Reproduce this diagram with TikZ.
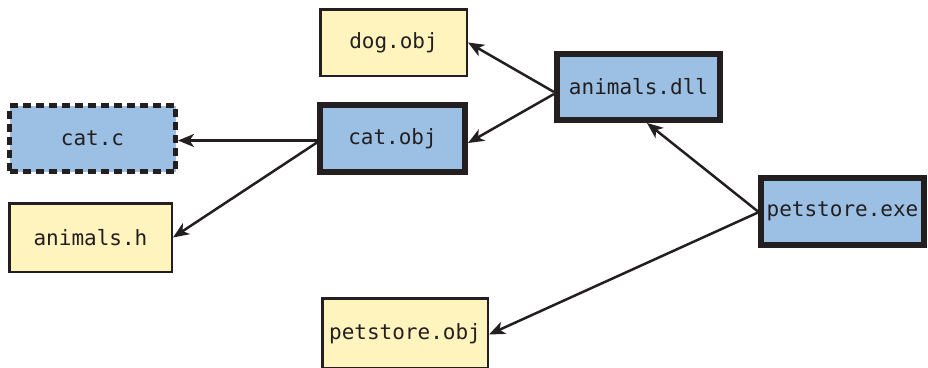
\documentclass[tikz,border=0pt]{standalone}
\usepackage{fontspec}
\setmonofont{DejaVu Sans Mono}
\usetikzlibrary{arrows.meta}
\definecolor{ink}{HTML}{231F20}
\definecolor{boxblue}{HTML}{9BC0E4}
\definecolor{boxyellow}{HTML}{FFF4BE}
\tikzset{
  filebox/.style={draw=ink, text=ink, rectangle, inner sep=0pt, font=\ttfamily\fontsize{21}{25}\selectfont},
  srcbox/.style={filebox, fill=boxyellow, line width=2.5pt},
  binbox/.style={filebox, fill=boxblue, line width=6pt},
  dashbox/.style={filebox, fill=boxblue, line width=5pt, dash pattern=on 8pt off 5pt},
  dep/.style={draw=ink, line width=2.5pt, -{Stealth[length=16pt,width=13pt,inset=4.5pt]}}
}
\begin{document}
\begin{tikzpicture}[x=1pt,y=-1pt]
\useasboundingbox (0,0) rectangle (928,367);
\node[srcbox, minimum width=146.5pt, minimum height=66.5pt] (dog) at (393.5,42.5) {dog.obj};
\node[binbox, minimum width=163pt, minimum height=66pt] (dll) at (638.5,87) {animals.dll};
\node[binbox, minimum width=145pt, minimum height=67pt] (catobj) at (392.5,138.5) {cat.obj};
\node[dashbox, minimum width=166pt, minimum height=66pt] (catc) at (92.5,138.5) {cat.c};
\node[srcbox, minimum width=162.5pt, minimum height=68.5pt] (animh) at (90.5,237.5) {animals.h};
\node[binbox, minimum width=163pt, minimum height=67pt] (exe) at (842.5,211.5) {petstore.exe};
\node[srcbox, minimum width=165.5pt, minimum height=70pt] (petobj) at (405,333.5) {petstore.obj};
\draw[dep] ([yshift=-5pt]dll.west) -- (dog.east);
\draw[dep] ([yshift=-7pt]dll.west) -- ([yshift=-4.5pt]catobj.east);
\draw[dep] ([yshift=-2pt]catobj.west) -- ([yshift=-2pt]catc.east);
\draw[dep] ([yshift=-4pt]catobj.west) -- (animh.east);
\draw[dep] (exe.west) -- ([xshift=8.5pt]dll.south);
\draw[dep] ([yshift=-1pt]exe.west) -- ([yshift=-1pt]petobj.east);
\end{tikzpicture}
\end{document}
